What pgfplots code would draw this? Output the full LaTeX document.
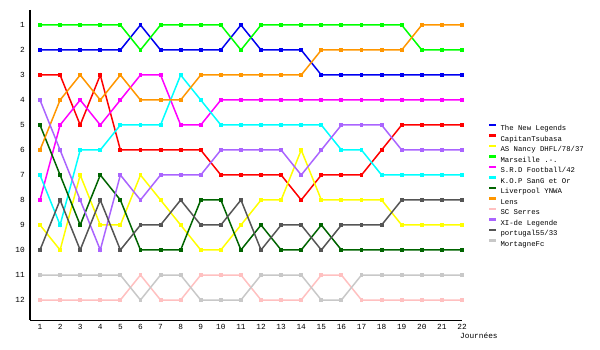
\documentclass[border=0pt]{standalone}
\usepackage{fontspec}
\setmainfont{Liberation Mono}
\usepackage{pgfplots}
\usepackage{pgfplotstable}
\pgfplotsset{compat=1.18}
\definecolor{cBlue}{RGB}{0,0,240}
\definecolor{cRed}{RGB}{255,0,0}
\definecolor{cYellow}{RGB}{255,255,0}
\definecolor{cGreen}{RGB}{0,255,0}
\definecolor{cMagenta}{RGB}{255,0,255}
\definecolor{cCyan}{RGB}{0,255,255}
\definecolor{cDkGreen}{RGB}{0,100,0}
\definecolor{cOrange}{RGB}{255,150,0}
\definecolor{cPink}{RGB}{255,192,192}
\definecolor{cPurple}{RGB}{170,100,255}
\definecolor{cDkGray}{RGB}{85,85,85}
\definecolor{cLtGray}{RGB}{200,200,200}
\pgfplotstableread{
j  nl  ct  an  ma  sr  ko  lv  le  sc  xi  po  mo
1  2   3   9   1   8   7   5   6   12  4   10  11
2  2   3   10  1   5   9   7   4   12  6   8   11
3  2   5   7   1   4   6   9   3   12  8   10  11
4  2   3   9   1   5   6   7   4   12  10  8   11
5  2   6   9   1   4   5   8   3   12  7   10  11
6  1   6   7   2   3   5   10  4   11  8   9   12
7  2   6   8   1   3   5   10  4   12  7   9   11
8  2   6   9   1   5   3   10  4   12  7   8   11
9  2   6   10  1   5   4   8   3   11  7   9   12
10 2   7   10  1   4   5   8   3   11  6   9   12
11 1   7   9   2   4   5   10  3   11  6   8   12
12 2   7   8   1   4   5   9   3   12  6   10  11
13 2   7   8   1   4   5   10  3   12  6   9   11
14 2   8   6   1   4   5   10  3   12  7   9   11
15 3   7   8   1   4   5   9   2   11  6   10  12
16 3   7   8   1   4   6   10  2   11  5   9   12
17 3   7   8   1   4   6   10  2   12  5   9   11
18 3   6   8   1   4   7   10  2   12  5   9   11
19 3   5   9   1   4   7   10  2   12  6   8   11
20 3   5   9   2   4   7   10  1   12  6   8   11
21 3   5   9   2   4   7   10  1   12  6   8   11
22 3   5   9   2   4   7   10  1   12  6   8   11
}\data
\begin{document}
\begin{tikzpicture}
\useasboundingbox (0,0) rectangle (600pt,350pt);
\begin{axis}[
  at={(30pt,30pt)}, anchor=south west,
  scale only axis, width=432pt, height=310pt,
  xmin=0.5025, xmax=22, ymin=0.4, ymax=12.8, y dir=reverse,
  axis x line=bottom, axis y line=left,
  axis line style={-, line width=1pt, black},
  xtick={1,...,22}, ytick={1,...,12}, major tick length=0pt,
  /pgf/number format/assume math mode=true,
  tick label style={font=\fontsize{7.8}{8}\selectfont},
  xticklabel style={inner sep=0pt, anchor=north, yshift=-4pt},
  yticklabel style={inner sep=0pt, anchor=east, xshift=-5pt},
  xlabel={Journées},
  xlabel style={at={(axis description cs:1,0)}, anchor=north west, inner sep=0pt, xshift=-2pt, yshift=-13pt, font=\fontsize{7.8}{8}\selectfont},
  every axis plot/.append style={line width=1.5pt, mark=square*, mark size=1.2pt},
  legend cell align=left,
  legend image code/.code={\draw[#1, line width=2.5pt] (0pt,3.3pt) -- (7pt,3.3pt);},
  legend style={at={(axis description cs:1.053,0.64)}, anchor=north west, draw=none, fill=none,
    font=\fontsize{7.3}{8}\selectfont,
    nodes={inner sep=0pt, text height=5.5pt, text depth=1pt},
    row sep=2.7pt, column sep=3pt},
]
\addplot[cBlue] table[x=j, y=nl] {\data};
\addlegendentry{The New Legends}
\addplot[cRed] table[x=j, y=ct] {\data};
\addlegendentry{CapitanTsubasa}
\addplot[cYellow] table[x=j, y=an] {\data};
\addlegendentry{AS Nancy DHFL/78/37}
\addplot[cGreen] table[x=j, y=ma] {\data};
\addlegendentry{Marseille .-.}
\addplot[cMagenta] table[x=j, y=sr] {\data};
\addlegendentry{S.R.D Football/42}
\addplot[cCyan] table[x=j, y=ko] {\data};
\addlegendentry{K.O.P SanG et Or}
\addplot[cDkGreen] table[x=j, y=lv] {\data};
\addlegendentry{Liverpool YNWA}
\addplot[cOrange] table[x=j, y=le] {\data};
\addlegendentry{Lens}
\addplot[cPink] table[x=j, y=sc] {\data};
\addlegendentry{SC Serres}
\addplot[cPurple] table[x=j, y=xi] {\data};
\addlegendentry{XI-de Legende}
\addplot[cDkGray] table[x=j, y=po] {\data};
\addlegendentry{portugal55/33}
\addplot[cLtGray] table[x=j, y=mo] {\data};
\addlegendentry{MortagneFc}
\end{axis}
\end{tikzpicture}
\end{document}
